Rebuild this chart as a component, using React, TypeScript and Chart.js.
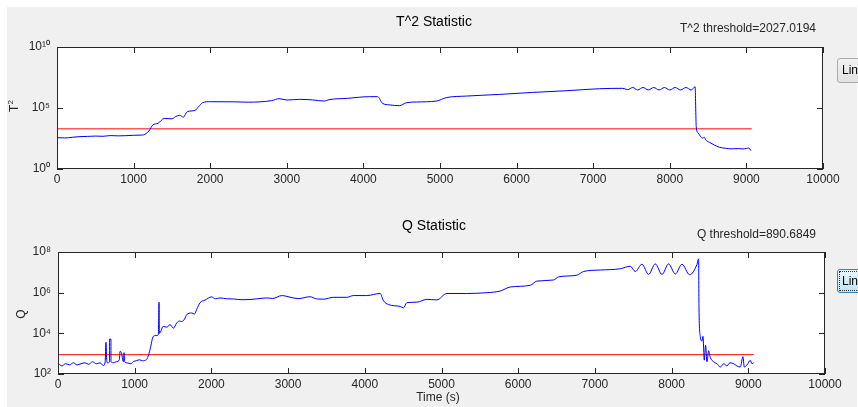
import React, { useEffect, useRef } from "react";
import Chart from "chart.js/auto";

// ---------- data ----------
const xTickValues = [0, 1000, 2000, 3000, 4000, 5000, 6000, 7000, 8000, 9000, 10000];
const t2YTicks = [1, 1e5, 1e10];
const qYTicks = [1e2, 1e4, 1e6, 1e8];

const t2Threshold = 2027.0194;
const qThreshold = 890.6849;
const thresholdSpan = [0, 9070];

const t2Time = [
  0, 100, 200, 300, 400, 500, 600, 700, 800, 900, 1000, 1100, 1130, 1200, 1250, 1320,
  1400, 1500, 1550, 1600, 1650, 1700, 1800, 1850, 1900, 2000, 2300, 2500, 2800, 2900,
  3000, 3166, 3335, 3492, 3550, 3792, 4080, 4184, 4250, 4340, 4471, 4561, 4692, 4953,
  5083, 5344, 5776, 6211, 6646, 7082, 7386, 7450, 7517, 7580, 7650, 7720, 7790, 7860,
  7930, 8000, 8070, 8140, 8210, 8280, 8330, 8345, 8370, 8428, 8450, 8470, 8520, 8580,
  8650, 8730, 8800, 8900, 8950, 9000, 9030, 9060,
];
const t2Value = [
  370, 350, 400, 450, 470, 500, 480, 550, 520, 540, 580, 600, 630, 1300, 4000, 5600,
  1.4e4, 1.3e4, 2.0e4, 2.5e4, 1.8e4, 5.0e4, 6.3e4, 1.3e5, 2.7e5, 3.3e5, 3.2e5, 3.0e5, 4.0e5, 5.8e5,
  4.5e5, 5.1e5, 4.6e5, 3.7e5, 4.8e5, 6.2e5, 8.5e5, 8.5e5, 2.4e5, 1.8e5, 1.55e5, 2.7e5, 3.1e5, 3.7e5,
  7.1e5, 9.5e5, 1.3e6, 1.9e6, 2.6e6, 3.8e6, 4.1e6, 3.2e6, 4.8e6, 3.0e6, 4.8e6, 3.0e6, 4.8e6, 3.0e6,
  4.8e6, 3.0e6, 4.8e6, 3.0e6, 4.8e6, 3.0e6, 5.5e6, 3000, 890, 340, 400, 240, 150, 93,
  60, 50, 45, 47, 44, 48, 52, 32,
];

const qTime = [
  0, 50, 100, 150, 200, 250, 300, 350, 400, 450, 500, 550, 591, 615, 626, 635, 650, 672, 673,
  690, 691, 720, 760, 800, 809, 830, 845, 855, 861, 870, 900, 950, 980, 1020, 1065, 1100,
  1152, 1175, 1200, 1243, 1290, 1308, 1317, 1322, 1330, 1373, 1420, 1460, 1504, 1547, 1580,
  1612, 1650, 1678, 1743, 1780, 1808, 1852, 1917, 2004, 2050, 2113, 2200, 2287, 2400, 2504,
  2600, 2722, 2800, 2917, 3026, 3130, 3287, 3374, 3461, 3591, 3765, 3852, 4026, 4200, 4243,
  4308, 4461, 4504, 4548, 4678, 4809, 4939, 5069, 5330, 5591, 5765, 5896, 6157, 6243, 6461,
  6526, 6765, 6852, 7070, 7330, 7461, 7526, 7613, 7700, 7787, 7874, 7961, 8048, 8135, 8235,
  8330, 8352, 8357, 8374, 8396, 8409, 8426, 8443, 8461, 8483, 8504, 8548, 8591, 8635, 8680,
  8722, 8760, 8809, 8850, 8896, 8930, 8948, 8983, 9026, 9048, 9070,
];
const qValue = [
  350, 250, 320, 280, 355, 280, 320, 355, 300, 400, 320, 355, 260, 400, 3600, 450, 355, 400, 5200,
  5200, 400, 355, 400, 500, 1300, 1000, 450, 400, 1120, 400, 355, 320, 400, 450, 500, 450,
  500, 740, 1600, 7100, 7900, 8500, 3.4e5, 1.0e4, 1.05e4, 2.2e4, 2.0e4, 2.7e4, 1.8e4, 3.2e4, 4.0e4,
  3.8e4, 5.0e4, 8.3e4, 1.0e5, 8.9e4, 1.5e5, 3.2e5, 4.3e5, 6.2e5, 5.0e5, 5.5e5, 5.0e5, 4.9e5, 4.5e5, 4.6e5,
  5.0e5, 5.5e5, 5.2e5, 7.2e5, 6.0e5, 5.1e5, 6.3e5, 4.9e5, 4.8e5, 5.9e5, 5.9e5, 7.2e5, 7.2e5, 9.1e5, 4.0e5,
  2.6e5, 2.1e5, 1.8e5, 3.2e5, 3.4e5, 4.7e5, 4.4e5, 9.1e5, 9.1e5, 1.0e6, 1.2e6, 1.9e6, 2.3e6, 3.7e6, 4.2e6,
  6.0e6, 7.2e6, 1.1e7, 1.3e7, 1.5e7, 2.0e7, 1.1e7, 2.5e7, 7.9e6, 2.6e7, 7.9e6, 2.6e7, 8.3e6, 2.5e7, 7.6e6,
  2.4e7, 4.6e7, 1.8e5, 7100, 4200, 7100, 480, 2600, 400, 1400, 660, 400, 320, 220, 320,
  250, 355, 320, 250, 220, 710, 220, 280, 470, 320, 355,
];

// ---------- helpers ----------
const FONT = "'Liberation Sans', Arial, Helvetica, sans-serif";
const SUP: Record<string, string> = {
  "0": "\u2070", "1": "\u00b9", "2": "\u00b2", "3": "\u00b3", "4": "\u2074",
  "5": "\u2075", "6": "\u2076", "7": "\u2077", "8": "\u2078", "9": "\u2079",
};
function powLabel(v: number): string {
  const e = Math.round(Math.log10(v));
  return "10" + String(e).split("").map((c) => SUP[c] || c).join("");
}

const boxPlugin = {
  id: "matlabBox",
  beforeDraw(chart: any) {
    const { ctx, chartArea: a } = chart;
    ctx.save();
    ctx.fillStyle = "#ffffff";
    ctx.fillRect(a.left, a.top, a.right - a.left, a.bottom - a.top);
    ctx.restore();
  },
  afterDraw(chart: any) {
    const { ctx, chartArea: a, scales } = chart;
    const L = Math.round(a.left), R = Math.round(a.right), T = Math.round(a.top), B = Math.round(a.bottom);
    ctx.save();
    ctx.strokeStyle = "#262626";
    ctx.lineWidth = 1;
    ctx.strokeRect(L + 0.5, T + 0.5, R - L - 1, B - T - 1);
    ctx.beginPath();
    const tl = 6;
    for (const v of xTickValues) {
      const px = Math.round(scales.x.getPixelForValue(v)) + 0.5;
      ctx.moveTo(px, B); ctx.lineTo(px, B - tl);
      ctx.moveTo(px, T); ctx.lineTo(px, T + tl);
    }
    for (const t of scales.y.ticks) {
      const py = Math.round(scales.y.getPixelForValue(t.value)) + 0.5;
      ctx.moveTo(L, py); ctx.lineTo(L + tl, py);
      ctx.moveTo(R, py); ctx.lineTo(R - tl, py);
    }
    ctx.stroke();
    ctx.restore();
  },
};

function makeConfig(
  times: number[], values: number[], threshold: number, thrColor: string, thrWidth: number,
  yMin: number, yMax: number, yTicks: number[],
  pad: { left: number; right: number; top: number; bottom: number }, yWidth: number, xHeight: number
): any {
  return {
    type: "line",
    data: {
      datasets: [
        {
          data: times.map((x, i) => ({ x, y: values[i] })),
          borderColor: "#0000ff",
          borderWidth: 1,
          pointRadius: 0,
          cubicInterpolationMode: "monotone",
          fill: false,
        },
        {
          data: thresholdSpan.map((x) => ({ x, y: threshold })),
          borderColor: thrColor,
          borderWidth: thrWidth,
          pointRadius: 0,
          fill: false,
        },
      ],
    },
    options: {
      animation: false,
      responsive: false,
      events: [],
      layout: { padding: pad },
      plugins: { legend: { display: false }, tooltip: { enabled: false }, title: { display: false } },
      scales: {
        x: {
          type: "linear",
          min: 0,
          max: 10000,
          afterBuildTicks: (s: any) => { s.ticks = xTickValues.map((v) => ({ value: v })); },
          afterFit: (s: any) => { s.height = xHeight; },
          grid: { display: false, drawTicks: false },
          border: { display: false },
          ticks: {
            color: "#262626",
            font: { family: FONT, size: 12 },
            padding: 3,
            maxRotation: 0,
            autoSkip: false,
            callback: (v: any) => String(v),
          },
        },
        y: {
          type: "logarithmic",
          min: yMin,
          max: yMax,
          afterBuildTicks: (s: any) => { s.ticks = yTicks.map((v) => ({ value: v })); },
          afterFit: (s: any) => { s.width = yWidth; },
          grid: { display: false, drawTicks: false },
          border: { display: false },
          ticks: {
            color: "#262626",
            font: { family: FONT, size: 12 },
            padding: 7,
            autoSkip: false,
            callback: (v: any) => powLabel(Number(v)),
          },
        },
      },
    },
    plugins: [boxPlugin],
  };
}

export default function App() {
  const c1 = useRef<HTMLCanvasElement | null>(null);
  const c2 = useRef<HTMLCanvasElement | null>(null);

  useEffect(() => {
    const ch1 = new Chart(
      c1.current as HTMLCanvasElement,
      makeConfig(t2Time, t2Value, t2Threshold, "#ff5a5a", 1.5, 1, 1e10, t2YTicks,
        { left: 0, right: 35, top: 47, bottom: 0 }, 57, 31)
    );
    const ch2 = new Chart(
      c2.current as HTMLCanvasElement,
      makeConfig(qTime, qValue, qThreshold, "#ff0000", 1, 1e2, 1e8, qYTicks,
        { left: 0, right: 33, top: 52, bottom: 0 }, 58, 33)
    );
    return () => { ch1.destroy(); ch2.destroy(); };
  }, []);

  const abs = (s: React.CSSProperties): React.CSSProperties => ({ position: "absolute", ...s });

  return (
    <div style={{ position: "fixed", left: 0, top: 0, width: 858, height: 407, background: "#ffffff", overflow: "hidden", fontFamily: FONT, color: "#000" }}>
      <div style={abs({ left: 7, top: 7, right: 1, bottom: 0, background: "#f0f0f0" })} />
      <canvas ref={c1} width={858} height={200} style={abs({ left: 0, top: 0 })} />
      <canvas ref={c2} width={858} height={207} style={abs({ left: 0, top: 200 })} />

      <div style={abs({ left: 334, width: 200, top: 13, lineHeight: "16px", fontSize: 14, textAlign: "center", whiteSpace: "nowrap" })}>T^2 Statistic</div>
      <div style={abs({ right: 42, top: 21, lineHeight: "14px", fontSize: 12, color: "#262626", whiteSpace: "nowrap" })}>T^2 threshold=2027.0194</div>
      <div style={abs({ left: 334, width: 200, top: 217, lineHeight: "16px", fontSize: 14, textAlign: "center", whiteSpace: "nowrap" })}>Q Statistic</div>
      <div style={abs({ right: 42, top: 227, lineHeight: "14px", fontSize: 12, color: "#262626", whiteSpace: "nowrap" })}>Q threshold=890.6849</div>
      <div style={abs({ left: 338, width: 200, top: 390, lineHeight: "14px", fontSize: 12, color: "#262626", textAlign: "center", whiteSpace: "nowrap" })}>Time (s)</div>

      <div style={abs({ left: 12, top: 106, fontSize: 12, lineHeight: "14px", color: "#262626", transform: "translate(-50%, -50%) rotate(-90deg)", whiteSpace: "nowrap" })}>
        T<sup style={{ fontSize: 8 }}>2</sup>
      </div>
      <div style={abs({ left: 21, top: 314, fontSize: 12, lineHeight: "14px", color: "#262626", transform: "translate(-50%, -50%) rotate(-90deg)", whiteSpace: "nowrap" })}>Q</div>

      <div style={abs({ left: 837, top: 58, width: 60, height: 23, border: "1px solid #acacac", borderRadius: 3, background: "linear-gradient(#f2f2f2, #e2e2e2)", fontSize: 12, lineHeight: "23px", paddingLeft: 4, whiteSpace: "nowrap" })}>Linear</div>
      <div style={abs({ left: 837, top: 269, width: 60, height: 22, border: "1px solid #3c7fb1", borderRadius: 3, background: "linear-gradient(#eaf6fd, #bde4f8)", fontSize: 12, lineHeight: "22px", paddingLeft: 4, whiteSpace: "nowrap", outline: "1px dotted #333", outlineOffset: -3 })}>Linear</div>
    </div>
  );
}
